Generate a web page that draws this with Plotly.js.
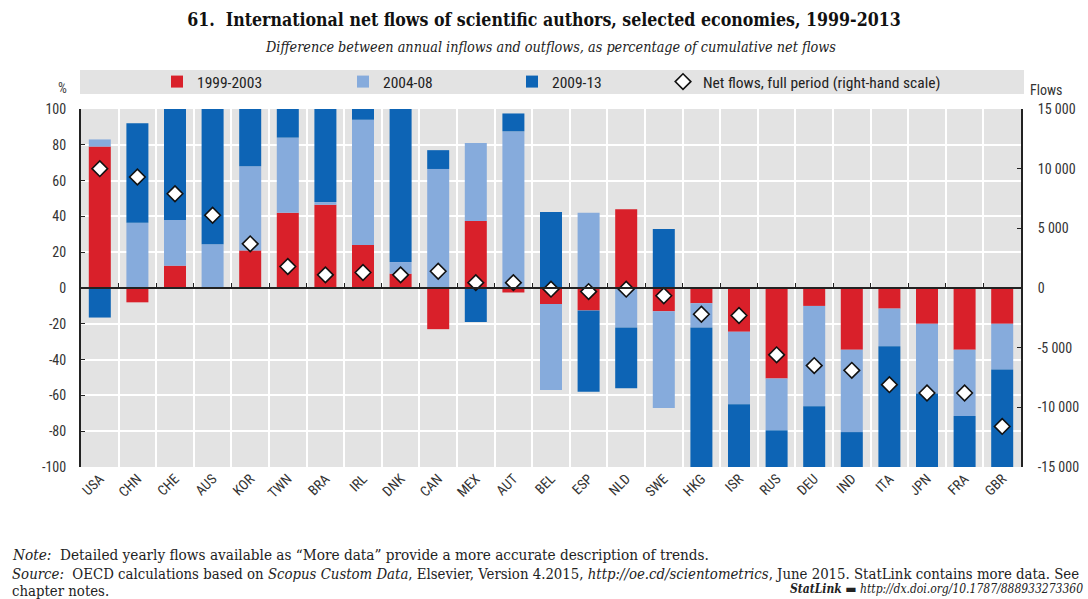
<!DOCTYPE html>
<html>
<head>
<meta charset="utf-8">
<script src="https://cdn.plot.ly/plotly-3.0.1.min.js"></script>
<style>
  html, body { margin: 0; padding: 0; background: #fff; }
  #chart { width: 1088px; height: 599px; }
</style>
</head>
<body>
<div id="chart"></div>
<script>
// ---- Data ----
const categories = ["USA","CHN","CHE","AUS","KOR","TWN","BRA","IRL","DNK","CAN","MEX","AUT","BEL","ESP","NLD","SWE","HKG","ISR","RUS","DEU","IND","ITA","JPN","FRA","GBR"];
const period1999_2003 = [79, -8, 12.5, 0, 21, 42, 46.5, 24, 8, -23, 37.5, -2.5, -9, -12.5, 44, -13, -8.5, -24.5, -50.5, -10, -34.5, -11.5, -20, -34.5, -20];
const period2004_08 = [4, 36.5, 25.5, 24.5, 47, 42, 1.5, 70, 6.5, 66.5, 43.5, 87.5, -48, 42, -22, -54, -13.5, -40.5, -29, -56, -46, -21, -39, -37, -25.5];
const period2009_13 = [-16.5, 55.5, 62, 75.5, 32, 16, 52, 6, 85.5, 10.5, -19, 10, 42.5, -45.5, -34, 33, -78, -35, -20.5, -34, -19.5, -67.5, -41, -28.5, -54.5];
const netFlowsFullPeriod = [10000, 9300, 7900, 6100, 3700, 1800, 1100, 1300, 1100, 1400, 450, 450, -100, -300, -100, -650, -2200, -2300, -5600, -6500, -6900, -8100, -8800, -8800, -11600];

const seriesNames = ["1999-2003", "2004-08", "2009-13", "Net flows, full period (right-hand scale)"];
const leftTickVals = [-100, -80, -60, -40, -20, 0, 20, 40, 60, 80, 100];
const leftTickText = ["-100", "-80", "-60", "-40", "-20", "0", "20", "40", "60", "80", "100"];
const rightTickVals = [-15000, -10000, -5000, 0, 5000, 10000, 15000];
const rightTickText = ["-15 000", "-10 000", "-5 000", "0", "5 000", "10 000", "15 000"];

// ---- Styling ----
const NARROW = "'Liberation Sans Narrow', 'Arial Narrow', 'Roboto Condensed', 'Liberation Sans', sans-serif";
const SERIF = "'DejaVu Serif Condensed', 'DejaVu Serif', serif";
const RED = "#d9202a";
const LIGHT = "#86abdc";
const DARK = "#0d64b5";
const AXIS = "#222";

const L = 81, R = 1021, T = 109, B = 467;
const PW = R - L, PH = B - T;
const px = x => (x - L) / PW;
const py = y => (B - y) / PH;

const traces = [
  { type: "bar", name: seriesNames[0], x: categories, y: period1999_2003, marker: { color: RED }, legend: "legend" },
  { type: "bar", name: seriesNames[1], x: categories, y: period2004_08, marker: { color: LIGHT }, legend: "legend2" },
  { type: "bar", name: seriesNames[2], x: categories, y: period2009_13, marker: { color: DARK }, legend: "legend3" },
  { type: "scatter", mode: "markers", name: seriesNames[3], x: categories, y: netFlowsFullPeriod,
    xaxis: "x2", yaxis: "y2", legend: "legend4",
    marker: { symbol: "diamond", size: 12, color: "#fff", line: { color: "#111", width: 1.6 } } }
];

const legendBase = (xpix) => ({
  x: px(xpix), xanchor: "left", y: py(82), yanchor: "middle",
  bgcolor: "rgba(0,0,0,0)", borderwidth: 0,
  font: { family: NARROW, size: 15.5, color: "#222" }
});

const layout = {
  width: 1088, height: 599,
  margin: { l: L, r: 1088 - R, t: T, b: 599 - B, pad: 0 },
  paper_bgcolor: "#ffffff",
  plot_bgcolor: "#e3e3e3",
  barmode: "relative",
  bargap: 0.415,
  font: { family: NARROW, size: 14, color: "#333" },
  showlegend: true,
  title: {
    text: "<b>61.  International net flows of scientific authors, selected economies, 1999-2013</b>",
    font: { family: SERIF, size: 17.6, color: "#111" },
    x: 0.5, xref: "container", xanchor: "center",
    y: 1 - 20 / 599, yref: "container", yanchor: "middle"
  },
  xaxis: {
    type: "category", range: [-0.5, 24.5],
    showgrid: false, ticks: "", tickangle: -45,
    tickfont: { family: NARROW, size: 14, color: "#333" },
    showline: false, zeroline: false, fixedrange: true
  },
  xaxis2: {
    type: "category", overlaying: "x", anchor: "free", position: 0.5, side: "bottom",
    range: [-0.5, 24.5], tickson: "boundaries",
    ticks: "inside", ticklen: 4, tickwidth: 1, tickcolor: AXIS,
    showticklabels: false, showgrid: true, gridcolor: "#ffffff", gridwidth: 2, zeroline: false,
    showline: true, linecolor: AXIS, linewidth: 2, layer: "above traces", fixedrange: true
  },
  yaxis: {
    range: [-100, 100], tickvals: leftTickVals, ticktext: leftTickText,
    showgrid: true, gridcolor: "#ffffff", gridwidth: 2, zeroline: false,
    showline: true, linecolor: AXIS, linewidth: 2,
    ticks: "inside", ticklen: 4, tickcolor: AXIS, ticklabelstandoff: 10,
    tickfont: { family: NARROW, size: 14, color: "#333" }, fixedrange: true
  },
  yaxis2: {
    overlaying: "y", side: "right", anchor: "x",
    range: [-15000, 15000], tickvals: rightTickVals, ticktext: rightTickText,
    showgrid: false, zeroline: false,
    showline: true, linecolor: AXIS, linewidth: 2,
    ticks: "inside", ticklen: 4, tickcolor: AXIS, ticklabelstandoff: 12,
    tickfont: { family: NARROW, size: 14, color: "#333" }, fixedrange: true
  },
  legend: legendBase(157),
  legend2: legendBase(343),
  legend3: legendBase(512),
  legend4: legendBase(663),
  shapes: [
    { type: "rect", xref: "paper", yref: "paper", layer: "below",
      x0: px(80), x1: px(1024), y0: py(94), y1: py(70),
      fillcolor: "#e3e3e3", line: { width: 0 } }
  ],
  annotations: [
    { text: "<i>Difference between annual inflows and outflows, as percentage of cumulative net flows</i>",
      xref: "paper", yref: "paper", x: px(550), y: py(47), xanchor: "center", yanchor: "middle",
      showarrow: false, font: { family: SERIF, size: 14.3, color: "#222" } },
    { text: "%", xref: "paper", yref: "paper", x: px(62), y: py(88), xanchor: "center", yanchor: "middle",
      showarrow: false, font: { family: NARROW, size: 14, color: "#444" } },
    { text: "Flows", xref: "paper", yref: "paper", x: px(1028), y: py(90), xanchor: "left", yanchor: "middle",
      showarrow: false, font: { family: NARROW, size: 14, color: "#333" } },
    { text: "<i>Note:</i>  Detailed yearly flows available as “More data” provide a more accurate description of trends.",
      xref: "paper", yref: "paper", x: px(10), y: py(555), xanchor: "left", yanchor: "middle",
      showarrow: false, font: { family: SERIF, size: 15.2, color: "#222" } },
    { text: "<i>Source:</i>  OECD calculations based on <i>Scopus Custom Data</i>, Elsevier, Version 4.2015, <i>http://oe.cd/scientometrics</i>, June 2015. StatLink contains more data. See",
      xref: "paper", yref: "paper", x: px(10), y: py(573), xanchor: "left", yanchor: "middle",
      showarrow: false, font: { family: SERIF, size: 14.8, color: "#222" } },
    { text: "chapter notes.",
      xref: "paper", yref: "paper", x: px(10), y: py(590), xanchor: "left", yanchor: "middle",
      showarrow: false, font: { family: SERIF, size: 14.8, color: "#222" } },
    { text: "<b><i>StatLink</i></b> <span style='font-family:DejaVu Sans'>▬</span> <i>http://dx.doi.org/10.1787/888933273360</i>",
      xref: "paper", yref: "paper", x: px(1085), y: py(589), xanchor: "right", yanchor: "middle",
      showarrow: false, font: { family: SERIF, size: 12, color: "#222" } }
  ]
};

Plotly.newPlot("chart", traces, layout, { displayModeBar: false, staticPlot: true });
</script>
</body>
</html>
